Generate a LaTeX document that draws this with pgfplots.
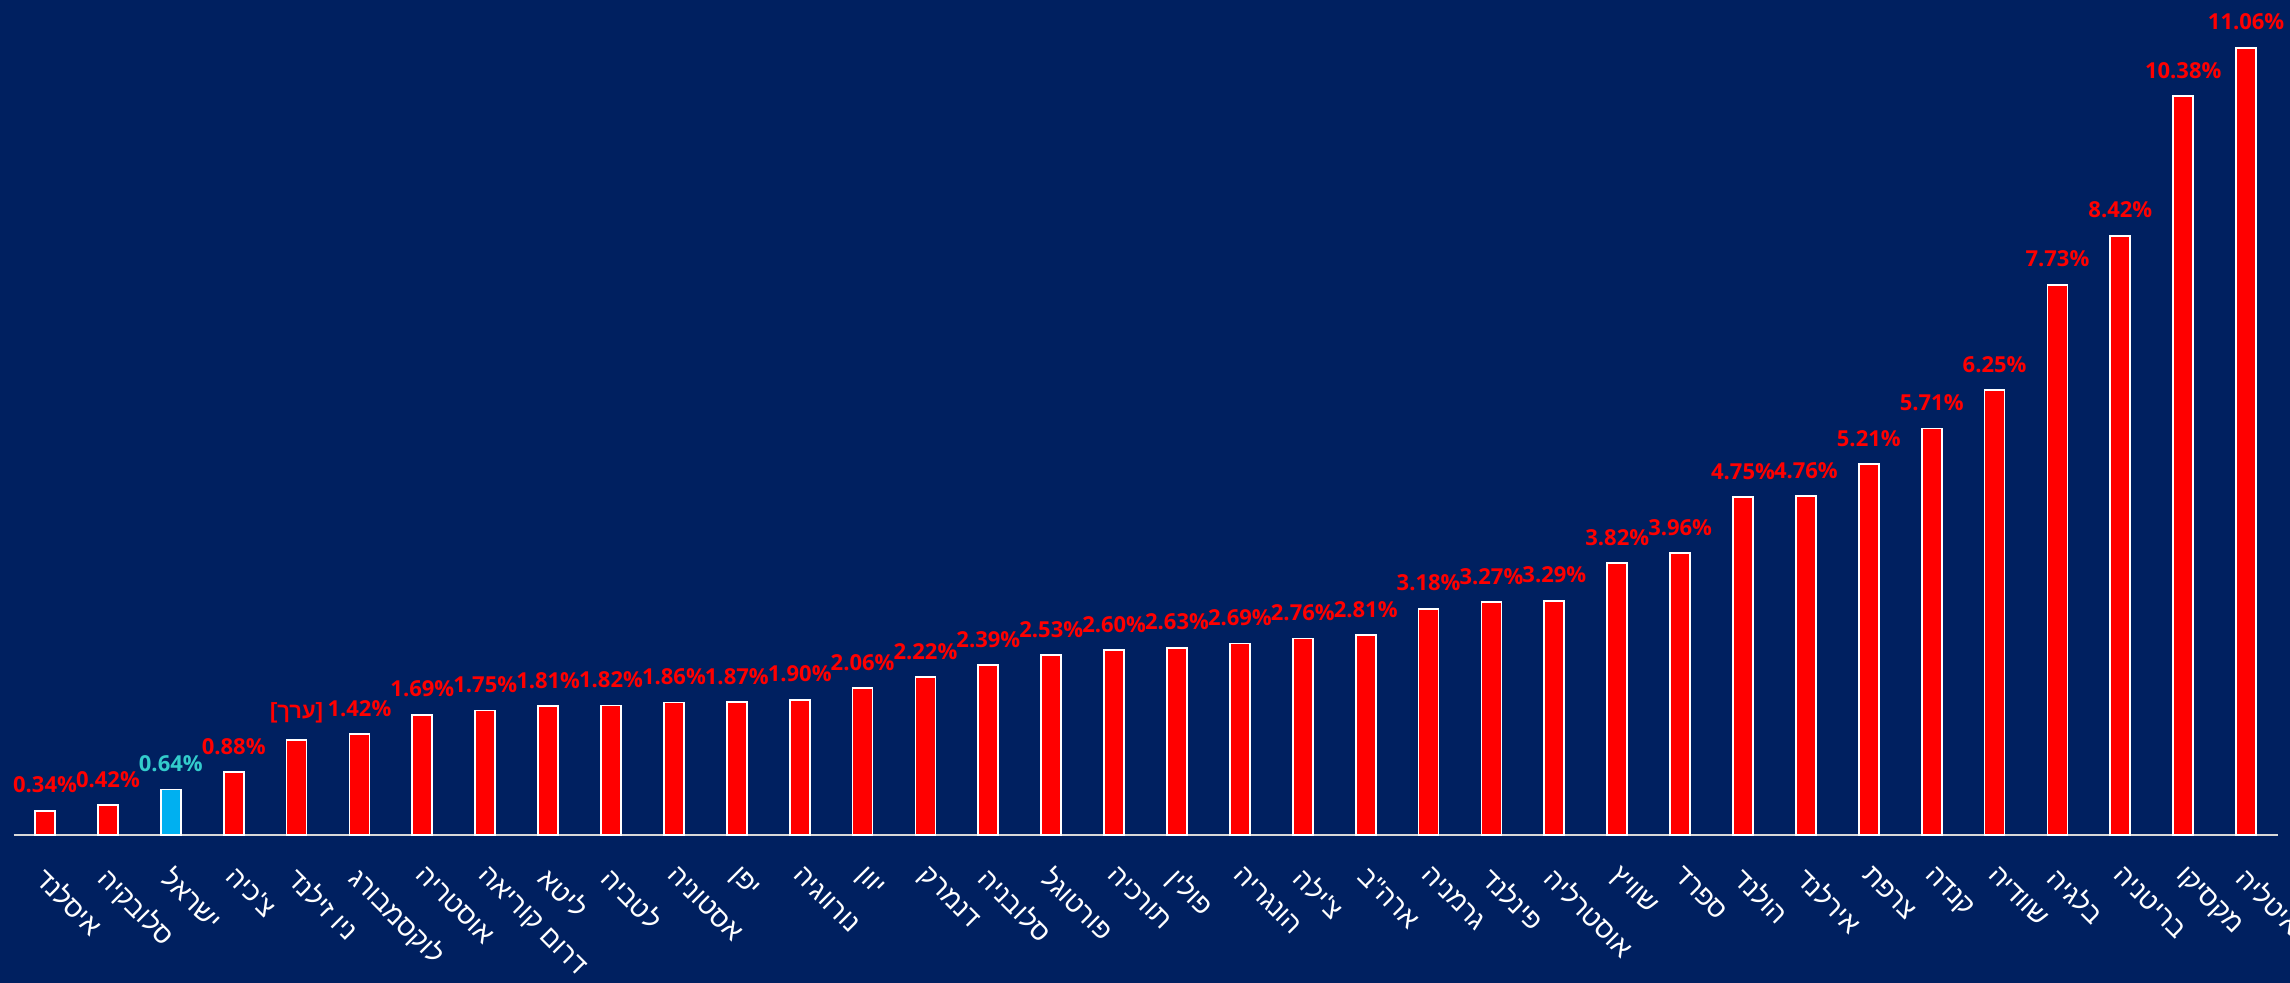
\documentclass[border=0pt]{standalone}
\usepackage{pgfplots}
\pgfplotsset{compat=1.18}
\usepackage{fontspec}
\setmainfont{Open Sans}
\newfontfamily\hebfont[Script=Hebrew]{Liberation Sans}
\TeXXeTstate=1
\definecolor{bg}{RGB}{0,32,96}
\definecolor{barred}{RGB}{255,0,0}
\definecolor{barblue}{RGB}{0,176,240}
\definecolor{lblcyan}{RGB}{51,204,204}
\definecolor{axgray}{RGB}{217,217,217}
\begin{document}
\begin{tikzpicture}
\useasboundingbox (0,0) rectangle (1145pt,491.5pt);
\fill[bg] (0,0) rectangle (1145pt,491.5pt);
\clip (0,0) rectangle (1145pt,491.5pt);
\begin{axis}[
  at={(6.8pt,74pt)}, anchor=south west,
  scale only axis, width=1132pt, height=417.5pt,
  xmin=-0.5, xmax=35.5, ymin=0, ymax=11.73,
  clip=false,
  ybar, bar width=10pt, bar shift=0pt,
  axis x line*=bottom, axis y line=none,
  x axis line style={-, draw=axgray, line width=1.3pt},
  xtick={0,...,35}, xtick style={draw=none}, major tick length=0pt,
  xticklabels={{\beginR איסלנד\endR},{\beginR סלובקיה\endR},{\beginR ישראל\endR},{\beginR צ'כיה\endR},{\beginR ניו זילנד\endR},{\beginR לוקסמבורג\endR},{\beginR אוסטריה\endR},{\beginR דרום קוריאה\endR},{\beginR ליטא\endR},{\beginR לטביה\endR},{\beginR אסטוניה\endR},{\beginR יפן\endR},{\beginR נורווגיה\endR},{\beginR יוון\endR},{\beginR דנמרק\endR},{\beginR סלובניה\endR},{\beginR פורטוגל\endR},{\beginR תורכיה\endR},{\beginR פולין\endR},{\beginR הונגריה\endR},{\beginR צ'ילה\endR},{\beginR ארה"ב\endR},{\beginR גרמניה\endR},{\beginR פינלנד\endR},{\beginR אוסטרליה\endR},{\beginR שוויץ\endR},{\beginR ספרד\endR},{\beginR הולנד\endR},{\beginR אירלנד\endR},{\beginR צרפת\endR},{\beginR קנדה\endR},{\beginR שוודיה\endR},{\beginR בלגיה\endR},{\beginR בריטניה\endR},{\beginR מקסיקו\endR},{\beginR איטליה\endR}},
  xticklabel style={xshift=2pt, yshift=-10pt, rotate=-45, anchor=north west, font=\hebfont\fontsize{13.5}{15}\selectfont, text=white},
  every node near coord/.append style={font=\bfseries\fontsize{11}{13}\selectfont, anchor=south, yshift=5pt},
]
\addplot[fill=barred, draw=white, line width=0.9pt,
  nodes near coords={\pgfmathprintnumber[assume math mode=true,fixed,fixed zerofill,precision=2]{\pgfplotspointmeta}\%},
  every node near coord/.append style={text=barred}]
coordinates {(0,0.34) (1,0.42) (3,0.88) (5,1.42) (6,1.69) (7,1.75) (8,1.81) (9,1.82) (10,1.86) (11,1.87) (12,1.90) (13,2.06) (14,2.22) (15,2.39) (16,2.53) (17,2.60) (18,2.63) (19,2.69) (20,2.76) (21,2.81) (22,3.18) (23,3.27) (24,3.29) (25,3.82) (26,3.96) (27,4.75) (28,4.76) (29,5.21) (30,5.71) (31,6.25) (32,7.73) (33,8.42) (34,10.38) (35,11.06)};
\addplot[fill=barblue, draw=white, line width=0.9pt,
  nodes near coords={\pgfmathprintnumber[assume math mode=true,fixed,fixed zerofill,precision=2]{\pgfplotspointmeta}\%},
  every node near coord/.append style={text=lblcyan}]
coordinates {(2,0.64)};
\addplot[fill=barred, draw=white, line width=0.9pt,
  nodes near coords={{\hebfont\bfseries\beginR[ערך]\endR}},
  every node near coord/.append style={text=barred}]
coordinates {(4,1.33)};
\end{axis}
\end{tikzpicture}
\end{document}
